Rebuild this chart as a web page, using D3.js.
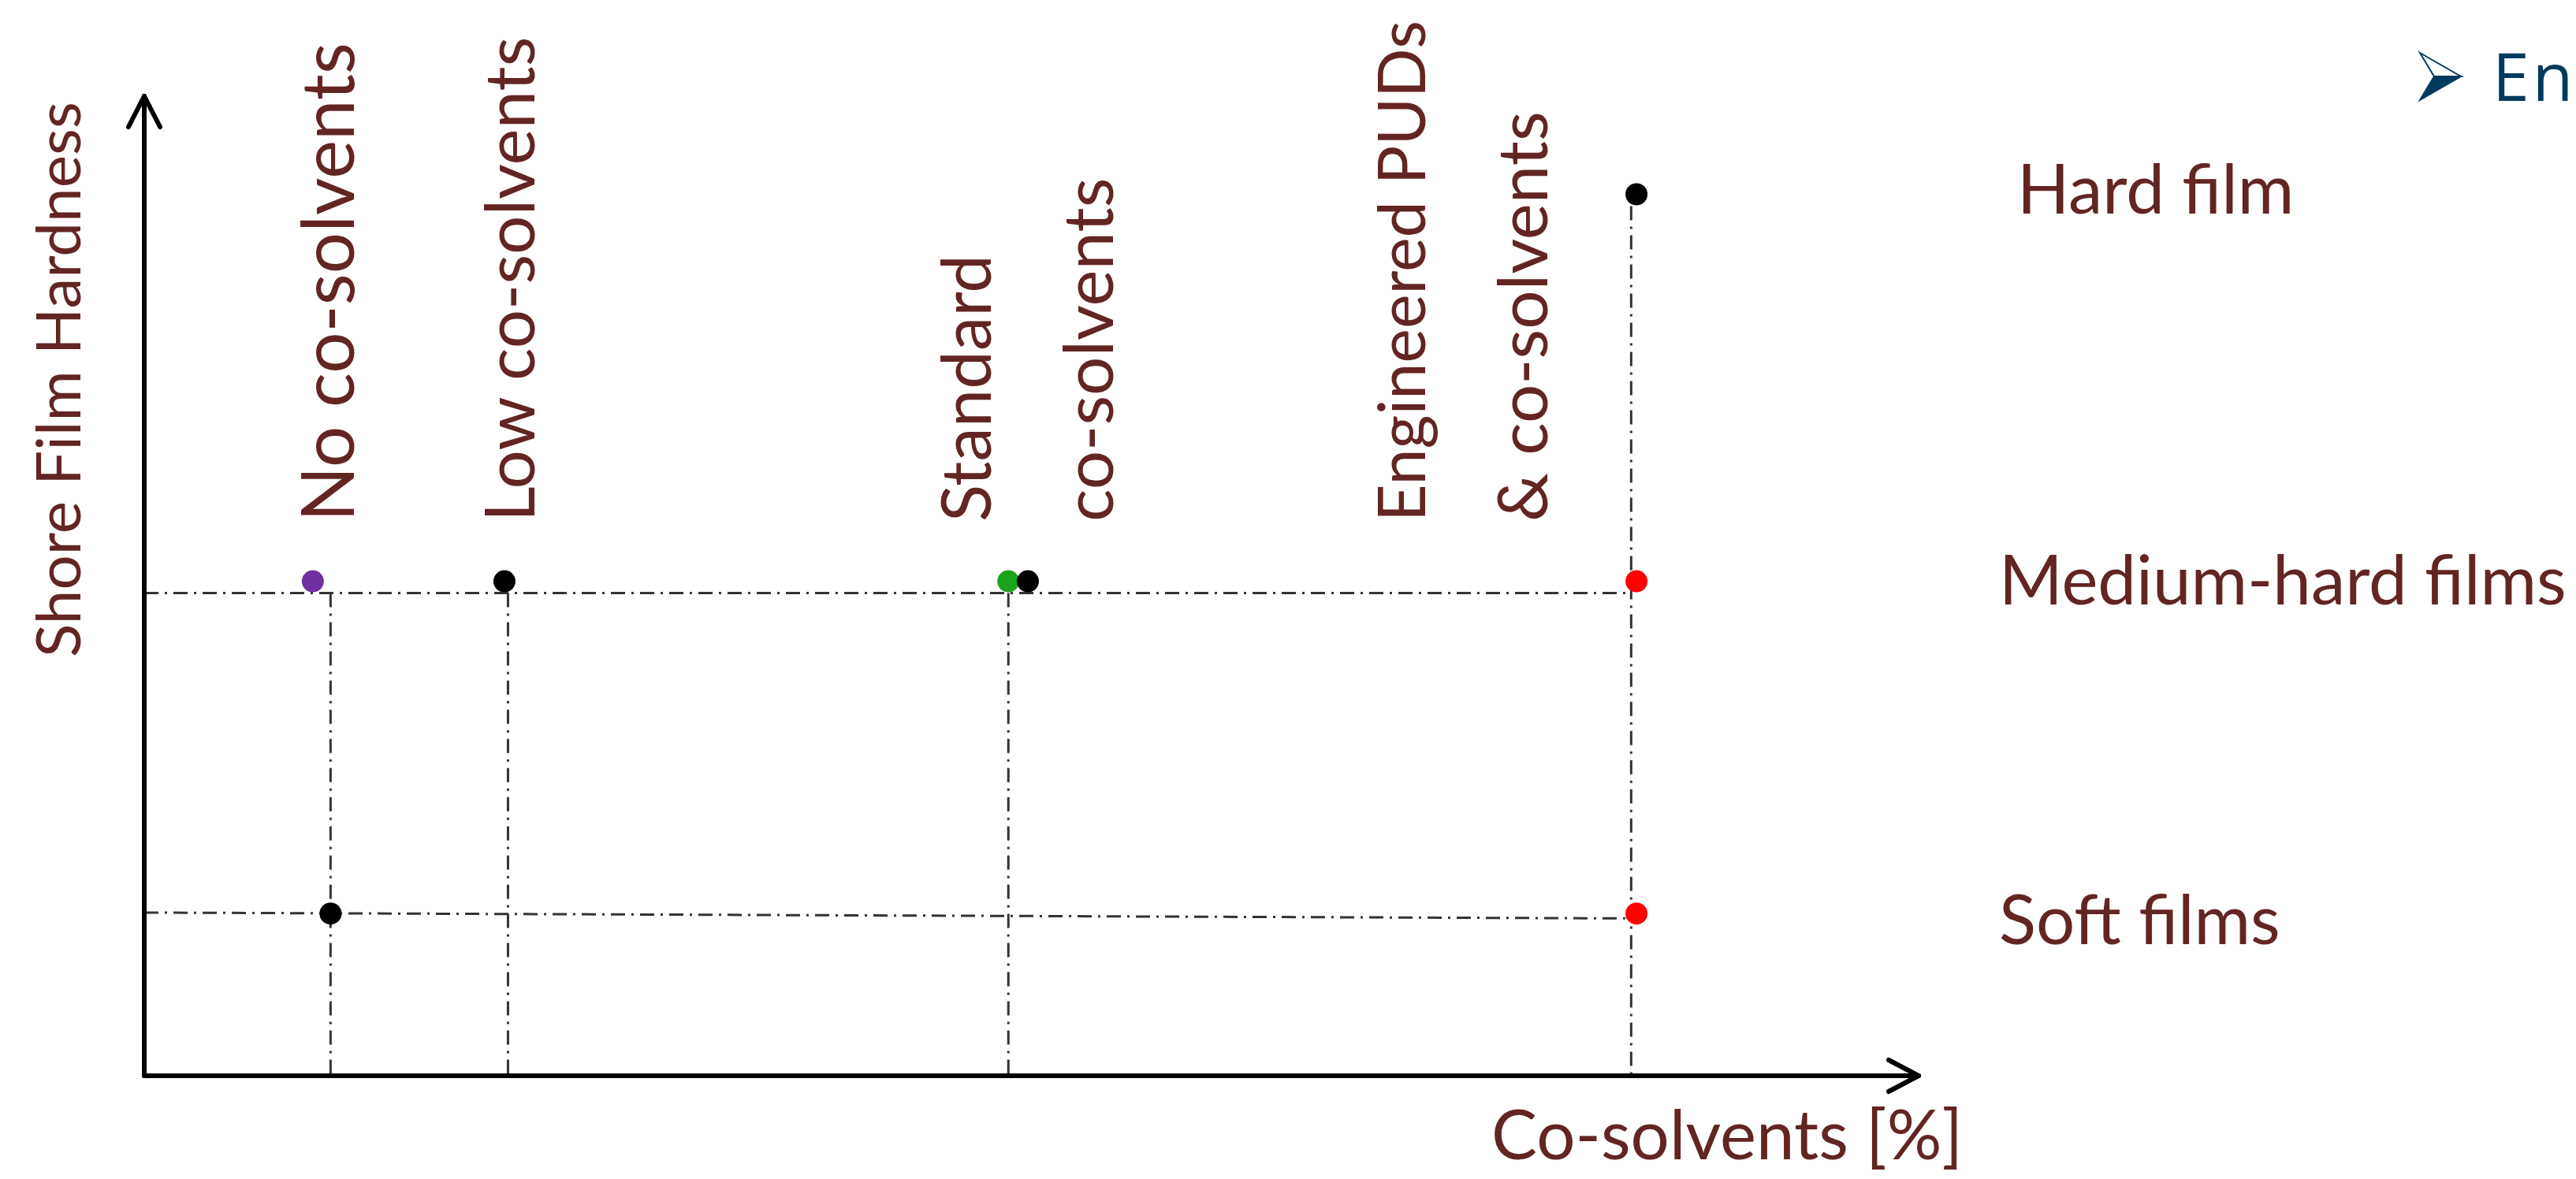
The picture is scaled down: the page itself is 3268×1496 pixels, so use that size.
<!DOCTYPE html>
<html lang="en">
<head>
<meta charset="UTF-8">
<title>Shore film hardness vs co-solvents</title>
<script src="https://cdn.jsdelivr.net/npm/d3@7"></script>
<style>
  html, body { margin: 0; padding: 0; background: #fff; overflow: hidden; }
</style>
</head>
<body>
<script>
// --- data (abstract units, 0..100 on each axis) ---
const levels = ["Hard film", "Medium-hard films", "Soft films"];
const levelY = [90.2, 49.4, 16.6];          // hardness level of each guide

const groups = ["No co-solvents", "Low co-solvents", "Standard\nco-solvents", "Engineered PUDs\n& co-solvents"];
const groupX = [10.5, 20.5, 48.7, 83.8];     // co-solvent content of each group
const groupLabelX = [11.8, 22.0, 47.7, 72.2]; // baseline of first label line

const pointX = [9.5, 20.3, 48.7, 49.8, 84.1, 84.1, 10.5, 84.1];
const pointY = [50.6, 50.6, 50.6, 50.6, 50.6, 90.2, 16.6, 16.6];
const pointColor = ["#7030a0", "#000000", "#1ca31c", "#000000", "#ff0000", "#000000", "#000000", "#ff0000"];

// guide lines: [x1, y1, x2, y2]
const guides = [
  [0, 49.4, 83.8, 49.4],
  [0, 16.7, 83.8, 16.1],
  [10.5, 49.4, 10.5, 0],
  [20.5, 49.4, 20.5, 0],
  [48.7, 49.4, 48.7, 0],
  [83.8, 89.0, 83.8, 0]
];

const W = 3268, H = 1496;
const textColor = "#632523";
const font = "Lato, 'Open Sans', sans-serif";
const fs = 87;

// printed lengths of some rotated labels in the original slide (px)
const labelLength = {
  "Shore Film Hardness": 705,
  "No co-solvents": 608,
  "Engineered PUDs": 636
};

const x = d3.scaleLinear().domain([0, 100]).range([183, 2434]);
const y = d3.scaleLinear().domain([0, 100]).range([1365, 125]);

const svg = d3.select("body").append("svg")
  .attr("width", W)
  .attr("height", H);

// guide lines (dash-dot)
svg.append("g")
  .selectAll("line")
  .data(guides)
  .join("line")
  .attr("x1", d => x(d[0]))
  .attr("y1", d => y(d[1]))
  .attr("x2", d => x(d[2]))
  .attr("y2", d => y(d[3]))
  .attr("stroke", "#333")
  .attr("stroke-width", 3)
  .attr("stroke-dasharray", "18 8 3 8");

// axes with open arrow heads
const axes = svg.append("g")
  .attr("stroke", "#000")
  .attr("stroke-width", 6)
  .attr("fill", "none")
  .attr("stroke-linecap", "round")
  .attr("stroke-linejoin", "round");

axes.append("path")
  .attr("d", `M${x(0)},${y(0)} V${y(100) - 3}`);
axes.append("path")
  .attr("d", `M${x(0) - 20},${y(100) + 36} L${x(0)},${y(100) - 3} L${x(0) + 20},${y(100) + 36}`);
axes.append("path")
  .attr("d", `M${x(0)},${y(0)} H${x(100)}`);
axes.append("path")
  .attr("d", `M${x(100) - 38},${y(0) - 20} L${x(100)},${y(0)} L${x(100) - 38},${y(0) + 20}`);

// points
svg.append("g")
  .selectAll("circle")
  .data(pointX)
  .join("circle")
  .attr("cx", d => x(d))
  .attr("cy", (d, i) => y(pointY[i]))
  .attr("r", 14)
  .attr("fill", (d, i) => pointColor[i]);

// scale the font so the label has the printed length
function sized(sel, str) {
  const target = labelLength[str];
  if (target) {
    const natural = sel.node().getComputedTextLength();
    sel.attr("font-size", fs * target / natural);
  }
  return sel;
}

// axis titles
sized(svg.append("text")
  .attr("transform", `translate(102, 834) rotate(-90)`)
  .attr("font-family", font)
  .attr("font-size", fs)
  .attr("fill", textColor)
  .text("Shore Film Hardness"), "Shore Film Hardness");

svg.append("text")
  .attr("x", 1892)
  .attr("y", 1471)
  .attr("font-family", font)
  .attr("font-size", fs)
  .attr("fill", textColor)
  .text("Co-solvents [%]");

// group labels (rotated, one or two lines)
const lineGap = 155;
groups.forEach((g, i) => {
  g.split("\n").forEach((line, j) => {
    sized(svg.append("text")
      .attr("transform", `translate(${x(groupLabelX[i]) + j * lineGap}, 662) rotate(-90)`)
      .attr("font-family", font)
      .attr("font-size", fs)
      .attr("fill", textColor)
      .text(line), line);
  });
});

// hardness level labels on the right
const levelLabelX = [2559, 2536, 2536];
const levelLabelY = [271, 767, 1198];
svg.append("g")
  .selectAll("text")
  .data(levels)
  .join("text")
  .attr("x", (d, i) => levelLabelX[i])
  .attr("y", (d, i) => levelLabelY[i])
  .attr("font-family", font)
  .attr("font-size", fs)
  .attr("fill", textColor)
  .text(d => d);

// bullet line at top right (cut off by the page edge)
const navy = "#003a5d";
svg.append("path")
  .attr("d", "M3070,67 L3122,97 L3088,97 Z")
  .attr("fill", "#fff")
  .attr("stroke", navy)
  .attr("stroke-width", 2);
svg.append("path")
  .attr("d", "M3070,127 L3122,97 L3088,97 Z")
  .attr("fill", navy)
  .attr("stroke", navy)
  .attr("stroke-width", 2);
svg.append("text")
  .attr("x", 3162)
  .attr("y", 128)
  .attr("font-family", "'Open Sans', sans-serif")
  .attr("font-size", 84)
  .attr("letter-spacing", 4)
  .attr("fill", navy)
  .text("Engineered PUDs");
</script>
</body>
</html>
